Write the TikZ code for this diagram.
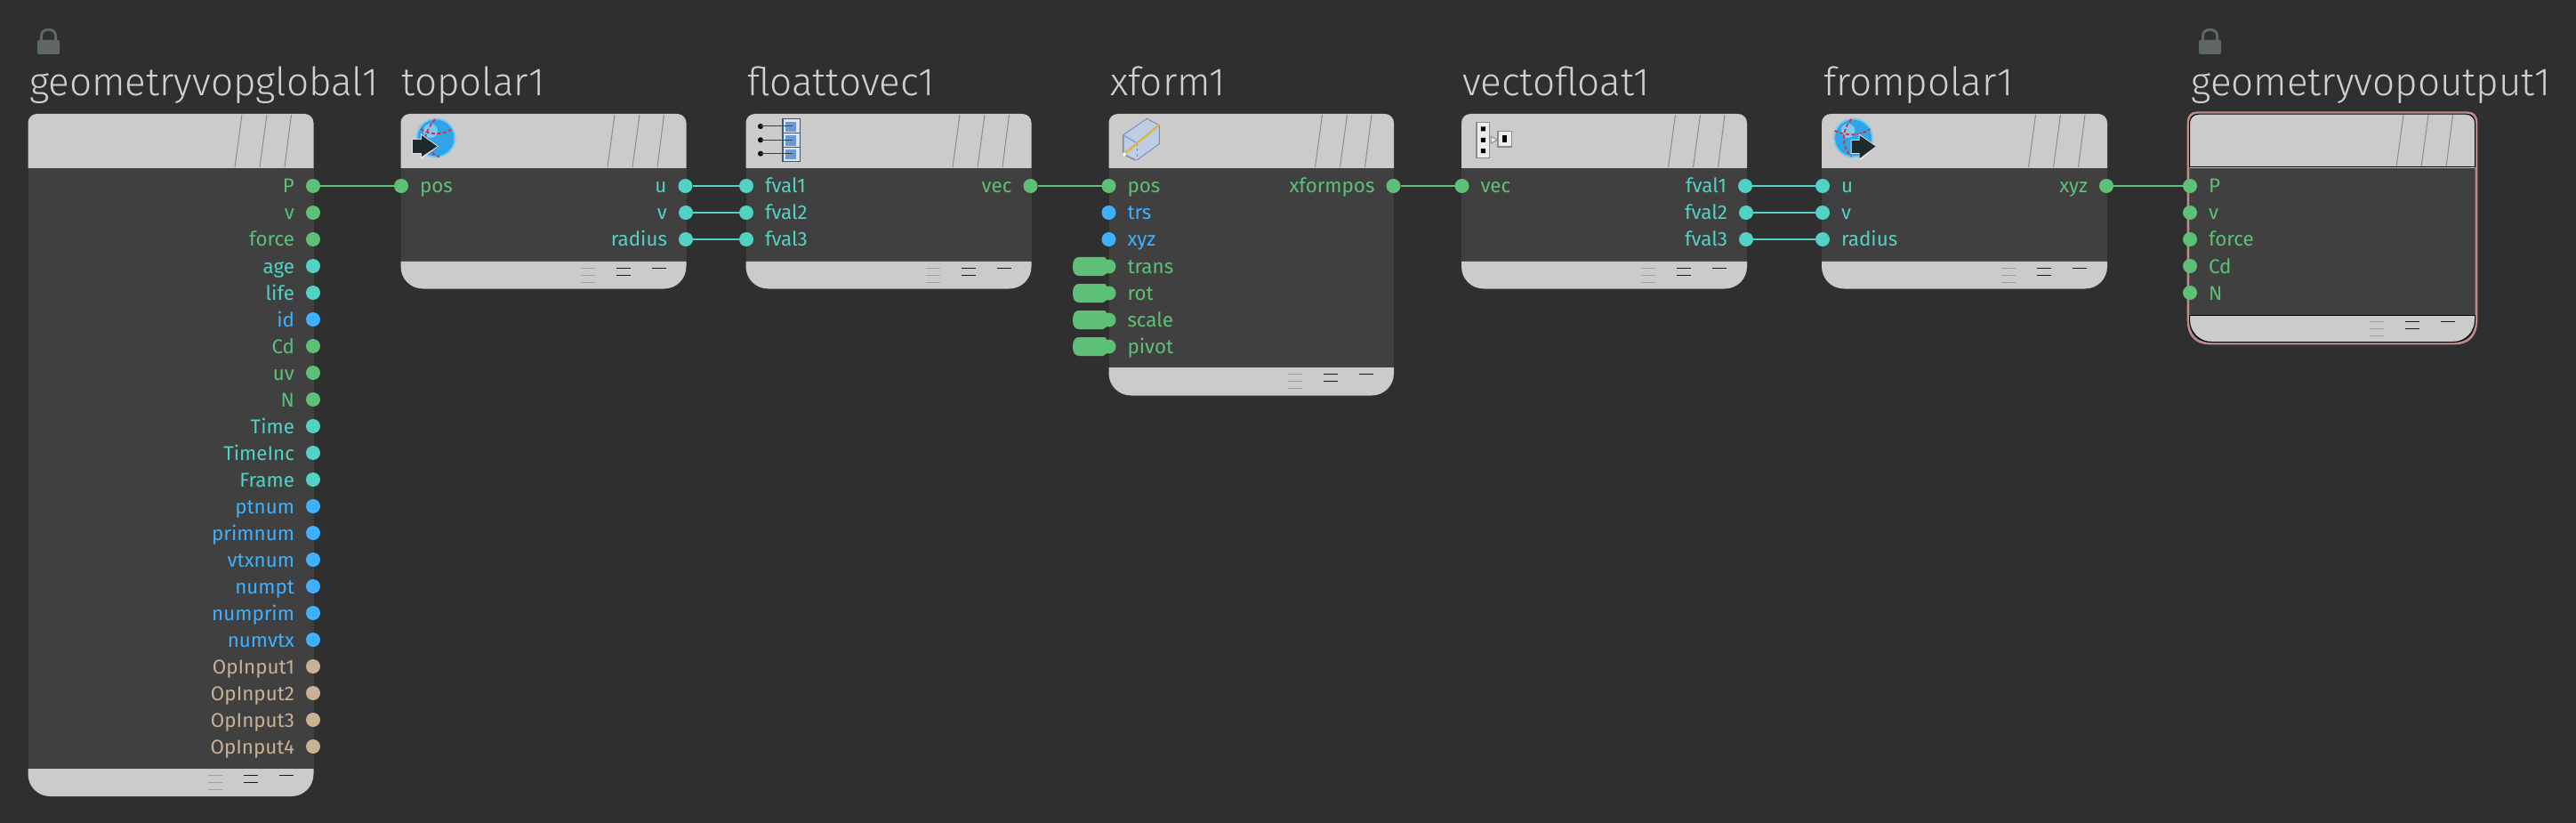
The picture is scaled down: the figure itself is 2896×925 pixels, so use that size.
\documentclass[tikz,border=0pt]{standalone}
\usepackage{fontspec}
\setmainfont{Fira Sans}
\newfontfamily\titlefont{Fira Sans Light}
\definecolor{bgc}{HTML}{2F2F2F}
\definecolor{bodyc}{HTML}{404040}
\definecolor{headc}{HTML}{CBCBCB}
\definecolor{titlec}{HTML}{D0D0D0}
\definecolor{pg}{HTML}{5EC077}
\definecolor{pc}{HTML}{52D2C4}
\definecolor{pb}{HTML}{3FB0FF}
\definecolor{pt}{HTML}{C9B196}
\definecolor{slashc}{HTML}{8C8C8C}
\definecolor{trip}{HTML}{A0A0A0}
\definecolor{lockc}{HTML}{5F6766}
\definecolor{pinkc}{HTML}{BC8C8C}
\definecolor{redc}{HTML}{D8323C}
\definecolor{globec}{HTML}{2FA4E8}
\definecolor{globel}{HTML}{7CC8F2}
\definecolor{arrowc}{HTML}{1F2A2C}
\definecolor{arrowl}{HTML}{E4E4E4}
\definecolor{cellb}{HTML}{2F5A94}
\definecolor{cellf}{HTML}{6F97D0}
\definecolor{celll}{HTML}{DDE5F0}
\definecolor{boxf}{HTML}{BCCDE4}
\definecolor{boxl}{HTML}{6F8FBF}
\definecolor{yelc}{HTML}{D8B93A}
\definecolor{iconw}{HTML}{EDEDED}
\tikzset{
  vopbody/.style={rectangle,fill=bodyc,inner sep=0pt,outer sep=0pt,anchor=north west},
  portdot/.style={circle,inner sep=0pt,outer sep=0pt,minimum size=16pt},
  plabel/.style={inner sep=0pt,outer sep=0pt,font=\fontsize{22.4}{22.4}\selectfont},
  vtitle/.style={inner sep=0pt,outer sep=0pt,anchor=base west,text=titlec,font=\titlefont\fontsize{44}{44}\selectfont},
  wire/.style={line width=1.6pt},
  slash/.style={slashc,line width=1pt},
  redline/.style={redc,line width=1.8pt,dash pattern=on 4pt off 2.5pt}
}
% name, left, right, footer top, bottom
\newcommand{\vopbox}[5]{%
  \node[vopbody,minimum width={(#3-#2)*1pt},minimum height={(#4-188)*1pt}] (#1) at (#2,188) {};
  \fill[headc] (#2,189) -- (#2,138) .. controls (#2,132.5) and (#2+4.5,128) .. (#2+10,128) -- (#3-10,128) .. controls (#3-4.5,128) and (#3,132.5) .. (#3,138) -- (#3,189) -- cycle;
  \fill[headc] (#2,#4) -- (#2,#5-25) .. controls (#2,#5-11) and (#2+11,#5) .. (#2+25,#5) -- (#3-25,#5) .. controls (#3-11,#5) and (#3,#5-11) .. (#3,#5-25) -- (#3,#4) -- cycle;
  \draw[slash] (#3-80.5,129) -- (#3-88.5,188);
  \draw[slash] (#3-52.5,129) -- (#3-60.5,188);
  \draw[slash] (#3-25,129) -- (#3-32.5,188);
  \draw[line width=1pt,trip] (#3-118.7,#4+7.3) -- (#3-102.7,#4+7.3) (#3-118.7,#4+15.3) -- (#3-102.7,#4+15.3) (#3-118.7,#4+23.3) -- (#3-102.7,#4+23.3);
  \draw[line width=1pt,black!90] (#3-78.7,#4+7.3) -- (#3-62.7,#4+7.3) (#3-78.7,#4+15.3) -- (#3-62.7,#4+15.3) (#3-38.7,#4+7.3) -- (#3-22.7,#4+7.3);
}
\newcommand{\portR}[5]{%
  \node[portdot,fill=#4] (#1) at (#2,#3) {};
  \node[plabel,text=#4,anchor=base east] (#1l) at (#2-21,#3+8) {#5};
}
\newcommand{\portL}[5]{%
  \node[portdot,fill=#4] (#1) at (#2,#3) {};
  \node[plabel,text=#4,anchor=base west] (#1l) at (#2+21,#3+8) {#5};
}
\newcommand{\pillport}[3]{%
  \fill[pg] (1246,#2-10.5) -- (1213,#2-10.5) .. controls (1208,#2-10.5) and (1206,#2-6) .. (1206,#2) .. controls (1206,#2+6) and (1208,#2+10.5) .. (1213,#2+10.5) -- (1240,#2+10.5) -- (1244,#2+8) -- (1244,#2-8) -- (1242,#2-10.5) -- cycle;
  \node[portdot,fill=pg] (#1) at (1246.5,#2) {};
  \node[plabel,text=pg,anchor=base west] (#1l) at (1267.5,#2+8) {#3};
}
\newcommand{\lockicon}[1]{%
  \draw[lockc,line width=3pt] (#1+4.5,47) -- (#1+4.5,40) .. controls (#1+4.5,31) and (#1+20.5,31) .. (#1+20.5,40) -- (#1+20.5,47);
  \fill[lockc] (#1+2,45) -- (#1+23,45) .. controls (#1+24.5,45) and (#1+25,46) .. (#1+25,47) -- (#1+25,59) .. controls (#1+25,60.5) and (#1+24,61) .. (#1+23,61) -- (#1+2,61) .. controls (#1+1,61) and (#1,60.5) .. (#1,59) -- (#1,47) .. controls (#1,46) and (#1+.5,45) .. (#1+2,45) -- cycle;
}
\begin{document}
\begin{tikzpicture}[x=1pt,y=-1pt]
\useasboundingbox (0,0) rectangle (2896,925);
\fill[bgc] (0,0) rectangle (2896,925);
\lockicon{42}
\lockicon{2472}
% boxes
\vopbox{global}{31.5}{352.5}{864}{895}
\vopbox{topolar}{450.5}{771.5}{294}{324.5}
\vopbox{floatvec}{838.5}{1159.5}{294}{324.5}
\vopbox{xform}{1246.5}{1567}{413}{444.5}
\vopbox{vecfloat}{1643}{1964}{294}{324.5}
\vopbox{frompolar}{2048}{2369}{294}{324.5}
\vopbox{output}{2461.5}{2782.5}{354}{384.5}
% output outline
\draw[pinkc,line width=2.6pt] (2460,188) -- (2460,138) .. controls (2460,131) and (2463,126.7) .. (2470,126.7) -- (2774,126.7) .. controls (2781,126.7) and (2784,131) .. (2784,138) -- (2784,360) .. controls (2784,376) and (2776,386) .. (2760,386) -- (2484,386) .. controls (2468,386) and (2460,376) .. (2460,360) -- cycle;
\draw[black,line width=1pt] (2461.5,188) -- (2461.5,138) .. controls (2461.5,132.5) and (2466,128.2) .. (2471.5,128.2) -- (2772.5,128.2) .. controls (2778,128.2) and (2782.5,132.5) .. (2782.5,138) -- (2782.5,188);
\draw[black,line width=1pt] (2461.5,188) -- (2782.5,188) (2461.5,354) -- (2782.5,354);
\draw[black,line width=1pt] (2461.5,354) -- (2461.5,360) .. controls (2461.5,373) and (2472,384.5) .. (2486,384.5) -- (2758,384.5) .. controls (2772,384.5) and (2782.5,373) .. (2782.5,360) -- (2782.5,354);
% titles
\node[vtitle] (t1) at (33,108) {geometryvopglobal1};
\node[vtitle] (t2) at (451.5,108) {topolar1};
\node[vtitle] (t3) at (840,108) {floattovec1};
\node[vtitle] (t4) at (1248,108) {xform1};
\node[vtitle] (t5) at (1644,108) {vectofloat1};
\node[vtitle] (t6) at (2050,108) {frompolar1};
\node[vtitle] (t7) at (2463.5,108) {geometryvopoutput1};
% global ports
\foreach \n/\c [count=\i from 0] in {P/pg,v/pg,force/pg,age/pc,life/pc,id/pb,Cd/pg,uv/pg,N/pg,Time/pc,TimeInc/pc,Frame/pc,ptnum/pb,primnum/pb,vtxnum/pb,numpt/pb,numprim/pb,numvtx/pb,OpInput1/pt,OpInput2/pt,OpInput3/pt,OpInput4/pt}{
  \portR{g\n}{352}{209+30*\i}{\c}{\n}
}
% topolar
\portL{tpos}{451}{209}{pg}{pos}
\portR{tu}{770.5}{209}{pc}{u}
\portR{tv}{771}{239}{pc}{v}
\portR{tr}{771}{269}{pc}{radius}
% floattovec
\portL{ff1}{839}{209}{pc}{fval1}
\portL{ff2}{839}{239}{pc}{fval2}
\portL{ff3}{839}{269}{pc}{fval3}
\portR{fvec}{1158.5}{209}{pg}{vec}
% xform
\portL{xpos}{1246.5}{209}{pg}{pos}
\portL{xtrs}{1246.5}{239}{pb}{trs}
\portL{xxyz}{1246.5}{269}{pb}{xyz}
\pillport{xtrans}{299.5}{trans}
\pillport{xrot}{329.5}{rot}
\pillport{xscale}{359.5}{scale}
\pillport{xpivot}{389.5}{pivot}
\portR{xout}{1566.5}{209}{pg}{xformpos}
% vectofloat
\portL{vvec}{1643.5}{209}{pg}{vec}
\portR{vf1}{1962}{209}{pc}{fval1}
\portR{vf2}{1963}{239}{pc}{fval2}
\portR{vf3}{1963}{269}{pc}{fval3}
% frompolar
\portL{pu}{2049}{209}{pc}{u}
\portL{pv}{2049}{239}{pc}{v}
\portL{pr}{2049}{269}{pc}{radius}
\portR{pxyz}{2368}{209}{pg}{xyz}
% output
\portL{oP}{2462}{209}{pg}{P}
\portL{ov}{2462}{239}{pg}{v}
\portL{of}{2462}{269}{pg}{force}
\portL{oC}{2462}{299}{pg}{Cd}
\portL{oN}{2462}{329}{pg}{N}
% wires
\draw[wire,pg] (gP) -- (tpos);
\draw[wire,pc] (tu) -- (ff1);
\draw[wire,pc] (tv) -- (ff2);
\draw[wire,pc] (tr) -- (ff3);
\draw[wire,pg] (fvec) -- (xpos);
\draw[wire,pg] (xout) -- (vvec);
\draw[wire,pc,line width=2pt] (vf1) -- (pu);
\draw[wire,pc,line width=2pt] (vf2) -- (pv);
\draw[wire,pc,line width=2pt] (vf3) -- (pr);
\draw[wire,pg] (pxyz) -- (oP);
% topolar icon
\begin{scope}[shift={(490,155)}]
  \fill[globel] (0,0) circle (22.5);
  \fill[globec] (0,0) circle (20.5);
  \fill[globel] (-6,-8) circle (8);
  \draw[redline] (-17,-10) .. controls (-8,-3) and (8,-3) .. (18,-10);
  \draw[redline] (-1,-21) .. controls (-8,-12) and (-12,-4) .. (-12,2);
  \draw[redline] (-4,16) .. controls (-2,20) and (1,21) .. (4,21);
  \fill[arrowl] (-27,1) -- (-17,1) -- (-17,-5) -- (3,9.5) -- (-17,24) -- (-17,18) -- (-27,18) -- cycle;
  \fill[arrowc] (-26,2) -- (-16,2) -- (-16,-3) -- (1.5,9.5) -- (-16,21) -- (-16,17) -- (-26,17) -- cycle;
\end{scope}
% frompolar icon
\begin{scope}[shift={(2083.5,155)}]
  \fill[globel] (0,0) circle (22.5);
  \fill[globec] (0,0) circle (20.5);
  \fill[globel] (-6,-8) circle (8);
  \draw[redline] (-21,-8) .. controls (-8,-2) and (8,-2) .. (19,-10);
  \draw[redline] (-2,-21) .. controls (-13,-10) and (-14,10) .. (-2,21);
  \fill[arrowl] (-3,2) -- (6,2) -- (6,-5) -- (26,9.5) -- (7,26) -- (7,18) -- (-3,18) -- cycle;
  \fill[arrowc] (-2,3) -- (7,3) -- (7,-3) -- (25,9.5) -- (7,23) -- (7,17) -- (-2,17) -- cycle;
\end{scope}
% floattovec icon
\begin{scope}
  \fill[celll] (880,133.5) rectangle (899.5,181.5);
  \foreach \ya/\yb in {137/148,152.5/164,168.5/179}{\fill[cellf] (883,\ya) rectangle (895,\yb);}
  \draw[line width=1.4pt,cellb] (880,133.5) rectangle (899.5,181.5) (880,149.3) -- (899.5,149.3) (880,165.3) -- (899.5,165.3);
  \foreach \yy in {142,157.3,172.7}{\fill[black] (855,\yy) circle (3); \draw[line width=1pt,black!75] (855,\yy) -- (891,\yy);}
\end{scope}
% xform icon
\begin{scope}
  \fill[boxf] (1289.3,133.3) -- (1303.3,140.7) -- (1303.3,161.7) -- (1276.7,180) -- (1262.7,173.3) -- (1262.7,151.7) -- cycle;
  \draw[line width=.9pt,boxl] (1289.3,133.3) -- (1303.3,140.7) -- (1303.3,161.7) -- (1278,180) (1262.7,151.7) -- (1289.3,133.3) (1262.7,151.7) -- (1278.5,161) -- (1303.3,140.7);
  \draw[line width=.8pt,dashed,boxl] (1278.5,161) -- (1278.5,180);
  \draw[line width=1.6pt,slashc] (1262.7,151.7) -- (1262.7,173.3) -- (1276.7,180);
  \draw[line width=2.4pt,yelc,line cap=round] (1265,172) -- (1302.5,141);
  \fill[white] (1264,173.5) circle (2);
\end{scope}
% vectofloat icon
\begin{scope}
  \draw[line width=1.2pt,fill=iconw,draw=slashc] (1660,137.5) rectangle (1674.3,177.3);
  \draw[line width=1.2pt,fill=iconw,draw=slashc] (1684,147.3) rectangle (1699.3,165);
  \fill[black] (1664.8,142.5) rectangle (1669.8,147.5) (1664.8,154.8) rectangle (1669.8,159.8) (1664.8,167.2) rectangle (1669.8,172.2);
  \fill[black] (1689.2,152) rectangle (1694.2,160.5);
  \draw[line width=1pt,fill=iconw,draw=slashc] (1676,153.3) -- (1683.3,157.3) -- (1676,161) -- cycle;
\end{scope}
\end{tikzpicture}
\end{document}
